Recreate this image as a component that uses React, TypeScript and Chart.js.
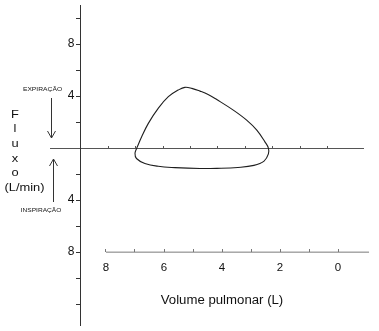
import React, { useEffect, useRef } from 'react';
import { Chart, registerables } from 'chart.js';

Chart.register(...registerables);

// ---- data ----
const loopVolume = [6.94, 6.77, 6.54, 6.2, 5.85, 5.51, 5.28, 5.04, 4.76, 4.48, 4.18, 3.61, 3.15, 2.8, 2.52, 2.4, 2.4, 2.55, 2.9, 3.45, 4.18, 4.76, 5.62, 6.2, 6.66, 6.95, 7.0, 6.94];
const loopFlow = [0, 0.87, 1.9, 3.05, 3.95, 4.46, 4.67, 4.59, 4.38, 4.12, 3.73, 2.92, 2.15, 1.38, 0.48, 0, -0.45, -1.0, -1.33, -1.49, -1.56, -1.57, -1.5, -1.4, -1.18, -0.8, -0.4, 0];

const flowTickValues = [10, 8, 6, 4, 2, -2, -4, -6, -8, -10, -12];
const flowTickLabels: Record<string, string> = { '8': '8', '4': '4', '-4': '4', '-8': '8' };
const baselineTickValues = [1, 2, 3, 4, 5, 6, 7, 8, 9];
const volumeTickValues = [8, 7, 6, 5, 4, 3, 2, 1, 0];
const volumeLabelValues = [8, 6, 4, 2, 0];
const volumeAxisExtent = [8, -1.07];
const volumeAxisLevel = -8;

const yTitleLines = ['F', 'l', 'u', 'x', 'o', '(L/min)'];
const xTitle = 'Volume pulmonar (L)';
const expLabel = 'EXPIRAÇÃO';
const inspLabel = 'INSPIRAÇÃO';

const FONT = "'Liberation Sans', Arial, Helvetica, sans-serif";

const zeroFit = (scale: any) => {
  if (scale.isHorizontal()) scale.height = 0;
  else scale.width = 0;
  scale.paddingTop = 0;
  scale.paddingBottom = 0;
  scale.paddingLeft = 0;
  scale.paddingRight = 0;
};

const annotationPlugin = {
  id: 'annotations',
  afterDraw(chart: any) {
    const ctx = chart.ctx as CanvasRenderingContext2D;
    ctx.save();
    const text = (t: string, cx: number, baseline: number, size: number, sx: number) => {
      ctx.save();
      ctx.font = `${size}px ${FONT}`;
      ctx.fillStyle = '#111';
      ctx.textAlign = 'center';
      ctx.textBaseline = 'alphabetic';
      ctx.translate(cx, baseline);
      ctx.scale(sx, 1);
      ctx.fillText(t, 0, 0);
      ctx.restore();
    };
    yTitleLines.forEach((t, i) => {
      const cx = i === yTitleLines.length - 1 ? 24.5 : 15;
      text(t, cx, 117.5 + i * 14.7, 11.5, 1.12);
    });
    text(expLabel, 42.5, 90.5, 6, 1.12);
    text(inspLabel, 41, 211.5, 6, 1.1);
    text(xTitle, 222, 304, 12, 1.1);

    const arrow = (x: number, y1: number, y2: number) => {
      const dir = y2 > y1 ? 1 : -1;
      ctx.strokeStyle = '#333';
      ctx.lineWidth = 1;
      ctx.beginPath();
      ctx.moveTo(x, y1);
      ctx.lineTo(x, y2);
      ctx.moveTo(x - 4, y2 - dir * 7);
      ctx.lineTo(x, y2);
      ctx.lineTo(x + 4, y2 - dir * 7);
      ctx.stroke();
    };
    arrow(51.5, 98, 138);
    arrow(53.5, 202, 159);
    ctx.restore();
  },
};

export default function App() {
  const ref = useRef<HTMLCanvasElement | null>(null);

  useEffect(() => {
    if (!ref.current) return;
    Chart.defaults.font.family = FONT;
    const loopData = loopVolume.map((v, i) => ({ x: v, y: loopFlow[i] }));
    const volumeAxisLine = volumeAxisExtent.map((v) => ({ x: v, y: volumeAxisLevel }));

    const chart = new Chart(ref.current, {
      type: 'line',
      data: {
        datasets: [
          {
            data: loopData,
            xAxisID: 'x2',
            yAxisID: 'y',
            borderColor: '#1e1e1e',
            borderWidth: 1.1,
            pointRadius: 0,
            tension: 0.4,
            fill: false,
          },
          {
            data: volumeAxisLine,
            xAxisID: 'x2',
            yAxisID: 'y',
            borderColor: '#7a7a7a',
            borderWidth: 1,
            pointRadius: 0,
            tension: 0,
            clip: false,
          } as any,
        ],
      },
      options: {
        responsive: false,
        animation: false,
        events: [],
        layout: { padding: { left: 50, right: 16, top: 5, bottom: 6 } },
        plugins: { legend: { display: false }, tooltip: { enabled: false }, title: { display: false } },
        scales: {
          x: {
            type: 'linear',
            min: -1.131,
            max: 10.292,
            position: { y: 0 } as any,
            afterBuildTicks: (s: any) => {
              s.ticks = baselineTickValues.map((v) => ({ value: v }));
            },
            afterFit: zeroFit,
            ticks: { display: false },
            grid: { drawOnChartArea: false, drawTicks: true, tickLength: -3, tickColor: '#555', tickWidth: 1 },
            border: { display: true, color: '#555', width: 1 },
          },
          x2: {
            type: 'linear',
            reverse: true,
            min: -0.862,
            max: 9.931,
            position: { y: volumeAxisLevel } as any,
            afterBuildTicks: (s: any) => {
              s.ticks = volumeTickValues.map((v) => ({ value: v }));
            },
            afterFit: zeroFit,
            ticks: {
              autoSkip: false,
              maxRotation: 0,
              padding: 12,
              color: '#111',
              font: { size: 11.5 },
              callback: (v: any) => (volumeLabelValues.includes(Number(v)) ? String(v) : ''),
            },
            grid: { drawOnChartArea: false, drawTicks: true, tickLength: -3, tickColor: '#777', tickWidth: 1 },
            border: { display: false },
          },
          y: {
            type: 'linear',
            min: -13.6,
            max: 11,
            position: { x: 0 } as any,
            afterBuildTicks: (s: any) => {
              s.ticks = flowTickValues.map((v) => ({ value: v }));
            },
            afterFit: zeroFit,
            ticks: {
              autoSkip: false,
              color: '#111',
              font: { size: 12 },
              callback: (v: any) => (flowTickLabels[String(v)] ? flowTickLabels[String(v)] + '  ' : ''),
            },
            grid: { drawOnChartArea: false, drawTicks: true, tickLength: 4, tickColor: '#333', tickWidth: 1 },
            border: { display: true, color: '#333', width: 1 },
          },
        },
      },
      plugins: [annotationPlugin],
    });
    return () => chart.destroy();
  }, []);

  return (
    <div style={{ position: 'absolute', left: 0, top: 0, width: 379, height: 331, background: '#fff' }}>
      <canvas ref={ref} width={379} height={331} style={{ display: 'block' }} />
    </div>
  );
}
